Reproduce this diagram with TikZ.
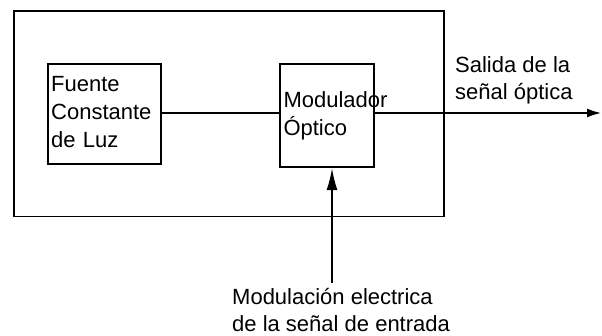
\documentclass[tikz,border=0pt]{standalone}
\usepackage{fontspec}
\setmainfont{Liberation Sans}
\usetikzlibrary{arrows.meta}
\begin{document}
\begin{tikzpicture}[x=1pt,y=-1pt,
  frame/.style={draw, line width=1.9pt, inner sep=0pt},
  box/.style={draw, line width=1.9pt, inner xsep=3.5pt, align=left, font=\fontsize{22}{28}\selectfont},
  lbl/.style={inner sep=0pt, anchor=west, align=left, font=\fontsize{22}{27.5}\selectfont},
  conn/.style={line width=1.5pt}]
\useasboundingbox (0,0) rectangle (602,336);
\node[frame, minimum width=429.7pt, minimum height=205.5pt] (outer) at (228.85,113.75) {};
\node[box, text width=106.3pt, minimum height=100.3pt] (fuente) at (104.35,114.15) {Fuente\\Constante\\de Luz\vspace{4pt}};
\node[box, text width=87pt, minimum height=103.3pt] (mod) at (327,115.65) {\mbox{Modulador}\\Óptico};
\coordinate (out) at (601,113);
\coordinate (in) at (332,283);
\draw[conn] (fuente.east |- out) -- (mod.west |- out);
\draw[conn, -{Latex[length=14pt,width=9pt]}] (mod.east |- out) -- (out);
\draw[conn, -{Latex[length=22pt,width=11pt]}] (in) -- (mod.south -| in);
\node[lbl] (salida) at (455,80.5) {Salida de la\\señal óptica};
\node[lbl] (entrada) at (232,310) {Modulación electrica\\de la señal de entrada};
\end{tikzpicture}
\end{document}
